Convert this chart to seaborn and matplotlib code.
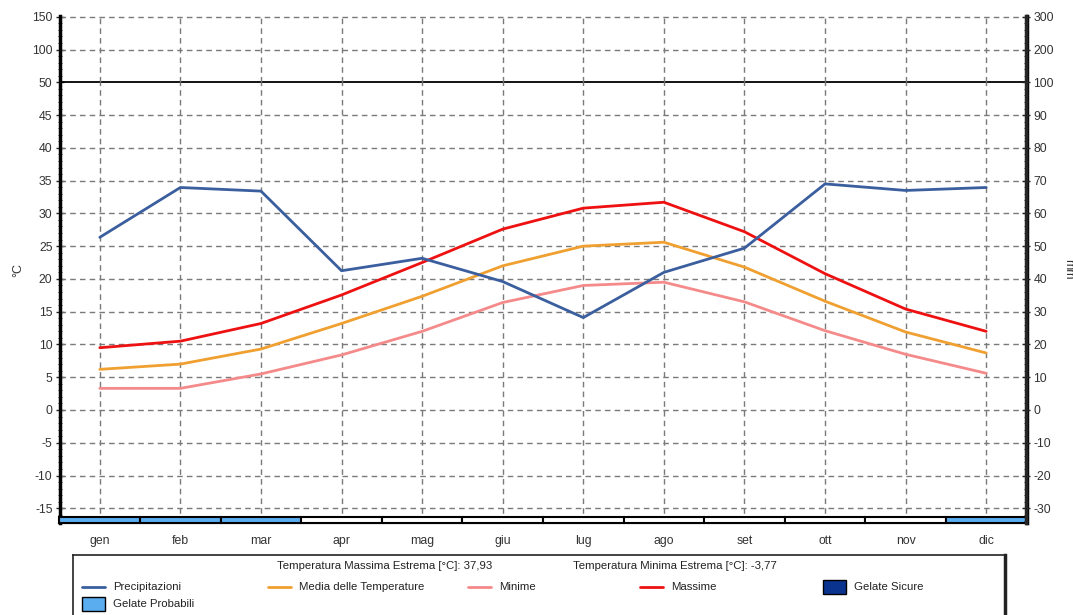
import numpy as np
import pandas as pd
import seaborn as sns
import matplotlib.pyplot as plt
from matplotlib.patches import Rectangle
from matplotlib.ticker import FixedLocator, MultipleLocator

# dati del diagramma climatico
mesi = ["gen", "feb", "mar", "apr", "mag", "giu", "lug", "ago", "set", "ott", "nov", "dic"]
precipitazioni = [52.7, 67.9, 66.8, 42.5, 46.3, 39.2, 28.2, 42.0, 49.4, 69.0, 67.0, 67.9]  # mm
media = [6.2, 7.0, 9.3, 13.2, 17.35, 22.0, 25.0, 25.6, 21.8, 16.6, 11.9, 8.7]
minime = [3.3, 3.3, 5.5, 8.4, 12.0, 16.4, 19.0, 19.5, 16.5, 12.1, 8.5, 5.6]
massime = [9.5, 10.5, 13.2, 17.55, 22.5, 27.6, 30.8, 31.7, 27.2, 20.8, 15.4, 12.0]
gelate = ["probabili", "probabili", "probabili", "", "", "", "", "", "", "", "", "probabili"]
t_max_estrema = "37,93"
t_min_estrema = "-3,77"

# tick asse sinistro (°C) e destro (mm): sopra 50 / 100 la scala è compressa
tick_c_pos = [-15, -10, -5, 0, 5, 10, 15, 20, 25, 30, 35, 40, 45, 50, 55, 60]
tick_c_lab = ["-15", "-10", "-5", "0", "5", "10", "15", "20", "25", "30", "35", "40", "45", "50", "100", "150"]
tick_mm_pos = [-30, -20, -10, 0, 10, 20, 30, 40, 50, 60, 70, 80, 90, 100, 110, 120]
tick_mm_lab = ["-30", "-20", "-10", "0", "10", "20", "30", "40", "50", "60", "70", "80", "90", "100", "200", "300"]

c_prec = "#3a5e9e"
c_media = "#f0a030"
c_min = "#f48a8a"
c_max = "#ee1111"
c_prob = "#5aaef0"
c_sicure = "#0a3390"

sns.set_style("white")
plt.rcParams["font.family"] = ["Liberation Sans", "DejaVu Sans"]

df = pd.DataFrame({"x": np.arange(12), "mese": mesi, "prec": precipitazioni,
                   "media": media, "min": minime, "max": massime})

fig = plt.figure(figsize=(10.73, 6.15), dpi=100)
ax = fig.add_axes([59.5 / 1073, (615 - 522.7) / 615, 967 / 1073, 506.3 / 615])
ylo, yhi = -17.2, 60.06
ax.set_xlim(-0.5, 11.5)
ax.set_ylim(ylo, yhi)

# griglia tratteggiata
for y in tick_c_pos:
    if y == 50:
        ax.axhline(y, color="black", lw=1.3, zorder=1)
    else:
        ax.axhline(y, color="#7a7a7a", lw=1.0, ls=(0, (4, 3)), zorder=1)
for x in range(12):
    ax.axvline(x, ymax=(50 - ylo) / (yhi - ylo), color="#7a7a7a", lw=1.0, ls=(0, (4, 3)), zorder=1)
    ax.axvline(x, ymin=(50 - ylo) / (yhi - ylo), color="#7a7a7a", lw=1.0, ls=(0, (4, 3)), zorder=1)

sns.lineplot(data=df, x="x", y="media", color=c_media, lw=2, ax=ax, zorder=3)
sns.lineplot(data=df, x="x", y="min", color=c_min, lw=2, ax=ax, zorder=3)
sns.lineplot(data=df, x="x", y="max", color=c_max, lw=2, ax=ax, zorder=3)

# barra gelate
col_gel = {"probabili": c_prob, "sicure": c_sicure, "": "white"}
ax.bar(df["x"], 0.92, bottom=ylo, width=1.0, color=[col_gel[g] for g in gelate],
       edgecolor="black", linewidth=1.5, zorder=4, clip_on=False)

ax.set_xticks(df["x"])
ax.set_xticklabels(mesi, fontsize=8.8, color="#333333")
ax.xaxis.set_minor_locator(MultipleLocator(0.25))
ax.tick_params(axis="x", which="major", length=4, width=1, pad=5, color="#333333")
ax.tick_params(axis="x", which="minor", length=2, width=0.8, color="#333333")
ax.set_yticks(tick_c_pos)
ax.set_yticklabels(tick_c_lab, fontsize=8.8, color="#333333")
ax.yaxis.set_minor_locator(FixedLocator(np.arange(-17, 61, 1)))
ax.tick_params(axis="y", which="major", direction="inout", length=6, width=1, pad=2)
ax.tick_params(axis="y", which="minor", direction="inout", length=2.5, width=0.6)
ax.set_xlabel("")
ax.set_ylabel("°C", fontsize=9, color="#333333", va="center")
ax.yaxis.set_label_coords(-0.043, 0.5)

ax.spines["top"].set_visible(False)
ax.spines["left"].set_linewidth(2.5)
ax.spines["right"].set_linewidth(2.5)
ax.spines["bottom"].set_linewidth(1.5)
for s in ax.spines.values():
    s.set_color("black")

# asse destro precipitazioni
ax2 = ax.twinx()
ax2.set_ylim(2 * ylo, 2 * yhi)
sns.lineplot(data=df, x="x", y="prec", color=c_prec, lw=2, ax=ax2, zorder=3)
ax2.set_yticks(tick_mm_pos)
ax2.set_yticklabels(tick_mm_lab, fontsize=8.8, color="#333333")
ax2.yaxis.set_minor_locator(FixedLocator(np.arange(-34, 121, 2)))
ax2.tick_params(axis="y", which="major", direction="inout", length=6, width=1, pad=2)
ax2.tick_params(axis="y", which="minor", direction="inout", length=2.5, width=0.6)
ax2.set_ylabel("mm", fontsize=9, color="#333333", rotation=270, va="center")
ax2.yaxis.set_label_coords(1.043, 0.5)
ax2.set_xlabel("")
for s in ["top", "left", "bottom"]:
    ax2.spines[s].set_visible(False)
ax2.spines["right"].set_linewidth(2.5)

# riquadro legenda (coordinate in pixel)
lg = fig.add_axes([73 / 1073, 0, (1005 - 73) / 1073, 60 / 615])
lg.set_xlim(73, 1005)
lg.set_ylim(615, 555)
lg.set_xticks([])
lg.set_yticks([])
lg.spines["bottom"].set_visible(False)
lg.spines["top"].set_linewidth(1.2)
lg.spines["left"].set_linewidth(1.2)
lg.spines["right"].set_linewidth(2.5)
for s in lg.spines.values():
    s.set_color("#222222")

fs = 8.2
lg.text(277, 566, f"Temperatura Massima Estrema [°C]: {t_max_estrema}", fontsize=fs, va="center", color="#222222")
lg.text(573, 566, f"Temperatura Minima Estrema [°C]: {t_min_estrema}", fontsize=fs, va="center", color="#222222")
voci = [(82, c_prec, "Precipitazioni"), (268, c_media, "Media delle Temperature"),
        (468, c_min, "Minime"), (640, c_max, "Massime")]
for x0, c, t in voci:
    lg.plot([x0, x0 + 23], [587, 587], color=c, lw=2)
    lg.text(x0 + 31, 587, t, fontsize=fs, va="center", color="#222222")
lg.add_patch(Rectangle((823, 580), 23, 14, facecolor=c_sicure, edgecolor="black", lw=1))
lg.text(854, 587, "Gelate Sicure", fontsize=fs, va="center", color="#222222")
lg.add_patch(Rectangle((82, 597), 23, 14, facecolor=c_prob, edgecolor="black", lw=1))
lg.text(113, 604, "Gelate Probabili", fontsize=fs, va="center", color="#222222")

fig.savefig("out.png", dpi=100)
